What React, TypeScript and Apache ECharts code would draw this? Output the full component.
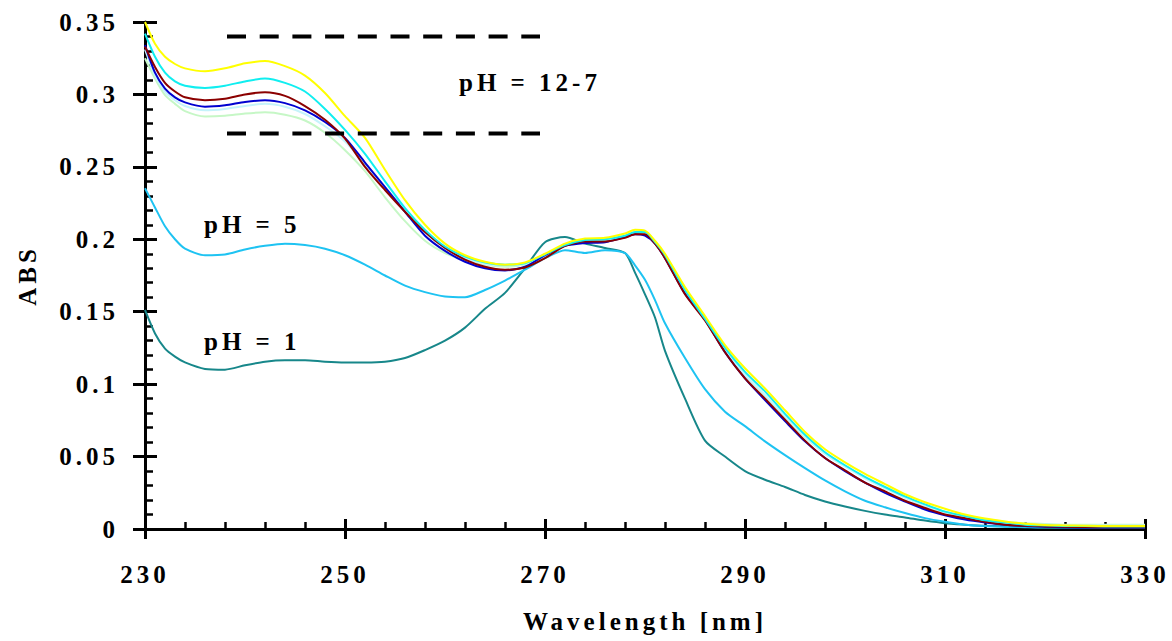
import React, { useEffect, useRef } from "react";
import * as echarts from "echarts";

// Wavelength grid (nm) at which the curves were read
const wavelengths = [
  230, 231, 232, 233, 234, 236, 238, 240, 242, 244, 246, 248, 250, 252, 254, 256, 258, 260, 262, 264,
  266, 268, 270, 272, 274, 276, 278, 279, 280, 281, 282, 284, 286, 288, 290, 292, 294, 296, 298, 300,
  302, 304, 306, 308, 310, 312, 314, 316, 318, 320, 322, 324, 326, 328, 330,
];

const yellowAbs = [
  0.35, 0.335, 0.326, 0.321, 0.318, 0.316, 0.318, 0.3215, 0.323, 0.3195, 0.313, 0.301, 0.285, 0.27, 0.248, 0.227, 0.21, 0.197, 0.189, 0.1845,
  0.1825, 0.184, 0.19, 0.197, 0.2005, 0.201, 0.204, 0.2065, 0.206, 0.199, 0.19, 0.167, 0.147, 0.127, 0.111, 0.097, 0.082, 0.067, 0.055, 0.046,
  0.038, 0.031, 0.024, 0.0185, 0.014, 0.01, 0.0072, 0.0052, 0.0036, 0.0028, 0.0025, 0.0022, 0.002, 0.002, 0.002,
];
const cyanAbs = [
  0.342, 0.326, 0.315, 0.309, 0.306, 0.3045, 0.306, 0.309, 0.311, 0.308, 0.302, 0.29, 0.2755, 0.259, 0.24, 0.2215, 0.2065, 0.195, 0.188, 0.184,
  0.1825, 0.1835, 0.1895, 0.196, 0.1995, 0.2, 0.2025, 0.205, 0.205, 0.198, 0.189, 0.165, 0.145, 0.125, 0.1085, 0.095, 0.0795, 0.065, 0.053, 0.044,
  0.036, 0.029, 0.0225, 0.017, 0.012, 0.009, 0.006, 0.0045, 0.003, 0.0025, 0.002, 0.002, 0.0018, 0.0018, 0.0018,
];
const darkRedAbs = [
  0.333, 0.319, 0.308, 0.302, 0.298, 0.296, 0.297, 0.3, 0.3015, 0.299, 0.292, 0.2825, 0.2695, 0.25, 0.234, 0.219, 0.205, 0.194, 0.186, 0.181,
  0.179, 0.1805, 0.187, 0.1955, 0.1985, 0.1985, 0.201, 0.2035, 0.2035, 0.197, 0.187, 0.162, 0.144, 0.122, 0.104, 0.09, 0.0755, 0.061, 0.049, 0.0405,
  0.032, 0.026, 0.0195, 0.0145, 0.01, 0.0075, 0.005, 0.003, 0.0022, 0.0018, 0.0015, 0.0013, 0.0012, 0.0012, 0.0012,
];
const blueAbs = [
  0.334, 0.315, 0.304, 0.298, 0.2945, 0.2915, 0.2925, 0.2948, 0.296, 0.294, 0.289, 0.281, 0.27, 0.253, 0.236, 0.219, 0.2025, 0.192, 0.1845, 0.18,
  0.1785, 0.181, 0.189, 0.1955, 0.1975, 0.198, 0.2015, 0.2035, 0.2025, 0.197, 0.187, 0.1625, 0.1445, 0.122, 0.104, 0.089, 0.0745, 0.0605, 0.049, 0.04,
  0.032, 0.025, 0.019, 0.0135, 0.0095, 0.0065, 0.0045, 0.003, 0.002, 0.0015, 0.0012, 0.001, 0.001, 0.001, 0.001,
];
const lightCyanAbs = [
  0.331, 0.313, 0.302, 0.296, 0.292, 0.289, 0.29, 0.292, 0.2935, 0.2915, 0.2865, 0.278, 0.2675, 0.252, 0.236, 0.22, 0.205, 0.194, 0.187, 0.183,
  0.182, 0.183, 0.1885, 0.196, 0.1995, 0.2, 0.2025, 0.205, 0.2045, 0.198, 0.189, 0.164, 0.1455, 0.124, 0.1065, 0.0925, 0.078, 0.064, 0.052, 0.043,
  0.035, 0.028, 0.0215, 0.016, 0.0115, 0.0085, 0.006, 0.0045, 0.0035, 0.003, 0.0028, 0.0025, 0.0025, 0.0025, 0.0025,
];
const lightGreenAbs = [
  0.325, 0.311, 0.2995, 0.2935, 0.2885, 0.2848, 0.2853, 0.2868, 0.2877, 0.286, 0.282, 0.2735, 0.2615, 0.247, 0.229, 0.2125, 0.199, 0.1905, 0.1855, 0.1825,
  0.181, 0.1825, 0.188, 0.1955, 0.199, 0.1995, 0.202, 0.2045, 0.204, 0.1975, 0.1885, 0.1635, 0.145, 0.1235, 0.106, 0.092, 0.0775, 0.0635, 0.052, 0.0435,
  0.0355, 0.0285, 0.022, 0.0165, 0.012, 0.009, 0.0065, 0.005, 0.004, 0.0035, 0.003, 0.003, 0.003, 0.003, 0.003,
];
const pH5Abs = [
  0.2352, 0.222, 0.209, 0.2, 0.1935, 0.189, 0.1895, 0.193, 0.1955, 0.197, 0.196, 0.1935, 0.189, 0.1825, 0.175, 0.168, 0.1635, 0.1605, 0.16, 0.165,
  0.1715, 0.179, 0.187, 0.1925, 0.1905, 0.1925, 0.1905, 0.182, 0.172, 0.158, 0.142, 0.118, 0.0965, 0.081, 0.071, 0.0605, 0.051, 0.042, 0.0335, 0.026,
  0.0195, 0.015, 0.011, 0.0075, 0.005, 0.003, 0.002, 0.0015, 0.0012, 0.001, 0.001, 0.001, 0.001, 0.001, 0.001,
];
const pH1Abs = [
  0.1512, 0.135, 0.1245, 0.119, 0.115, 0.1105, 0.11, 0.113, 0.1155, 0.1165, 0.1165, 0.1155, 0.115, 0.115, 0.1155, 0.118, 0.1235, 0.13, 0.139, 0.152,
  0.163, 0.18, 0.198, 0.2015, 0.197, 0.194, 0.1905, 0.177, 0.162, 0.146, 0.123, 0.09, 0.061, 0.05, 0.04, 0.034, 0.029, 0.0235, 0.019, 0.0155,
  0.0125, 0.01, 0.008, 0.0058, 0.004, 0.003, 0.0022, 0.0018, 0.0015, 0.0012, 0.0012, 0.0012, 0.0012, 0.0012, 0.0012,
];

// Dashed bracket lines marking the pH 12-7 band
const bracketX = [238.2, 269.5];
const bracketUpper = 0.34;
const bracketLower = 0.273;

const xTicks = { min: 230, max: 330, interval: 20 };
const yTicks = { min: 0, max: 0.35, interval: 0.05 };

const curves = [
  { name: "pH 1", values: pH1Abs, color: "#17878a" },
  { name: "pH 5", values: pH5Abs, color: "#1ec3f2" },
  { name: "light green", values: lightGreenAbs, color: "#c6f7c6" },
  { name: "light cyan", values: lightCyanAbs, color: "#c4f3fb" },
  { name: "blue", values: blueAbs, color: "#0000d0" },
  { name: "dark red", values: darkRedAbs, color: "#8b0000" },
  { name: "cyan", values: cyanAbs, color: "#10eef0" },
  { name: "yellow", values: yellowAbs, color: "#ffff00" },
];

const FONT = "Liberation Serif";
const FS = 25;

export default function App() {
  const ref = useRef<HTMLDivElement>(null);
  useEffect(() => {
    if (!ref.current) return;
    const chart = echarts.init(ref.current, null, { renderer: "svg" });
    const axisFont = { fontFamily: FONT, fontWeight: "bold" as const, fontSize: FS, color: "#000" };
    const lineSeries = curves.map((c) => ({
      name: c.name,
      type: "line",
      data: wavelengths.map((w, i) => [w, c.values[i]]),
      showSymbol: false,
      symbol: "none",
      smooth: 0.25,
      lineStyle: { color: c.color, width: 2 },
      z: 3,
    }));
    const bracket = [bracketUpper, bracketLower].map((v, k) => ({
      name: "bracket" + k,
      type: "line",
      data: bracketX.map((x) => [x, v]),
      symbol: "none",
      lineStyle: { color: "#000", width: 4, type: [19, 13.7] },
      z: 4,
    }));
    chart.setOption({
      animation: false,
      backgroundColor: "#fff",
      grid: { left: 145, right: 27, top: 22, bottom: 112, containLabel: false, outerBoundsMode: "none" },
      xAxis: [
        {
          type: "value",
          ...xTicks,
          position: "bottom",
          name: "Wavelength [nm]",
          nameLocation: "middle",
          nameGap: 80,
          nameTextStyle: { ...axisFont },
          axisLine: { show: true, lineStyle: { color: "#000", width: 3 } },
          axisTick: { show: true, inside: false, length: 10, lineStyle: { color: "#000", width: 3 } },
          axisLabel: { ...axisFont, margin: 33 },
          splitLine: { show: false },
        },
        {
          type: "value",
          ...xTicks,
          position: "bottom",
          axisLine: { show: false },
          axisTick: { show: true, inside: true, length: 10, lineStyle: { color: "#000", width: 3 } },
          minorTick: { show: true, splitNumber: 5, length: 7, lineStyle: { color: "#000", width: 2.5 } },
          axisLabel: { show: false },
          splitLine: { show: false },
        },
      ],
      yAxis: [
        {
          type: "value",
          ...yTicks,
          position: "left",
          name: "ABS",
          nameLocation: "middle",
          nameGap: 105,
          nameTextStyle: { ...axisFont },
          axisLine: { show: true, lineStyle: { color: "#000", width: 3 } },
          axisTick: { show: true, inside: false, length: 12, lineStyle: { color: "#000", width: 3 } },
          axisLabel: { ...axisFont, margin: 26 },
          splitLine: { show: false },
        },
        {
          type: "value",
          ...yTicks,
          position: "left",
          axisLine: { show: false },
          axisTick: { show: true, inside: true, length: 12, lineStyle: { color: "#000", width: 3 } },
          minorTick: { show: true, splitNumber: 5, length: 8, lineStyle: { color: "#000", width: 2.5 } },
          axisLabel: { show: false },
          splitLine: { show: false },
        },
      ],
      series: [...lineSeries, ...bracket],
      graphic: [
        { type: "text", left: 459, top: 70, style: { text: "pH = 12-7", font: `bold ${FS}px "${FONT}"`, fill: "#000" } },
        { type: "text", left: 204, top: 212, style: { text: "pH = 5", font: `bold ${FS}px "${FONT}"`, fill: "#000" } },
        { type: "text", left: 204, top: 329, style: { text: "pH = 1", font: `bold ${FS}px "${FONT}"`, fill: "#000" } },
      ],
    });
    return () => chart.dispose();
  }, []);
  return (
    <>
      <style>{`.abs-chart svg text { letter-spacing: 4px; }`}</style>
      <div
        ref={ref}
        className="abs-chart"
        style={{ position: "fixed", left: 0, top: 0, width: 1172, height: 641, background: "#fff" }}
      />
    </>
  );
}
